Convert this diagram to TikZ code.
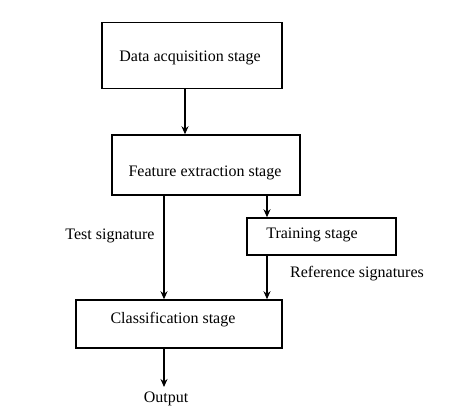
\documentclass[tikz,border=0pt]{standalone}
\usepackage{fontspec}
\setmainfont{Liberation Serif}
\usetikzlibrary{arrows.meta}
\begin{document}
\begin{tikzpicture}[x=1pt,y=-1pt,
  stagebox/.style={draw,line width=1.5pt,inner sep=0pt},
  lbl/.style={inner sep=0pt,font=\fontsize{16}{19}\selectfont},
  flow/.style={line width=1.5pt,-{Stealth[length=8pt,width=7pt]}}]
\useasboundingbox (0,0) rectangle (460,408);
\node[stagebox,minimum width=180pt,minimum height=66pt] (acq) at (192,55.5) {};
\node[stagebox,minimum width=188pt,minimum height=60pt] (feat) at (206,165) {};
\node[stagebox,minimum width=149pt,minimum height=37pt] (train) at (321.5,236.5) {};
\node[stagebox,minimum width=206pt,minimum height=48pt] (cls) at (179,324) {};
\node[lbl] (tacq) at (190,58) {Data acquisition stage};
\node[lbl] (tfeat) at (205,173) {Feature extraction stage};
\node[lbl] (ttrain) at (312,235) {Training stage};
\node[lbl] (tcls) at (173,320) {Classification stage};
\node[lbl] (ttest) at (110,236) {Test signature};
\node[lbl] (tref) at (357,274) {Reference signatures};
\node[lbl] (out) at (166,399) {Output};
\coordinate (outend) at (164,387);
\draw[flow] (acq.south -| 185,0) -- (feat.north -| 185,0);
\draw[flow] (feat.south -| 164,0) -- (cls.north -| 164,0);
\draw[flow] (feat.south -| 267,0) -- (train.north -| 267,0);
\draw[flow] (train.south -| 267,0) -- (cls.north -| 267,0);
\draw[flow] (cls.south -| 164,0) -- (outend);
\end{tikzpicture}
\end{document}
